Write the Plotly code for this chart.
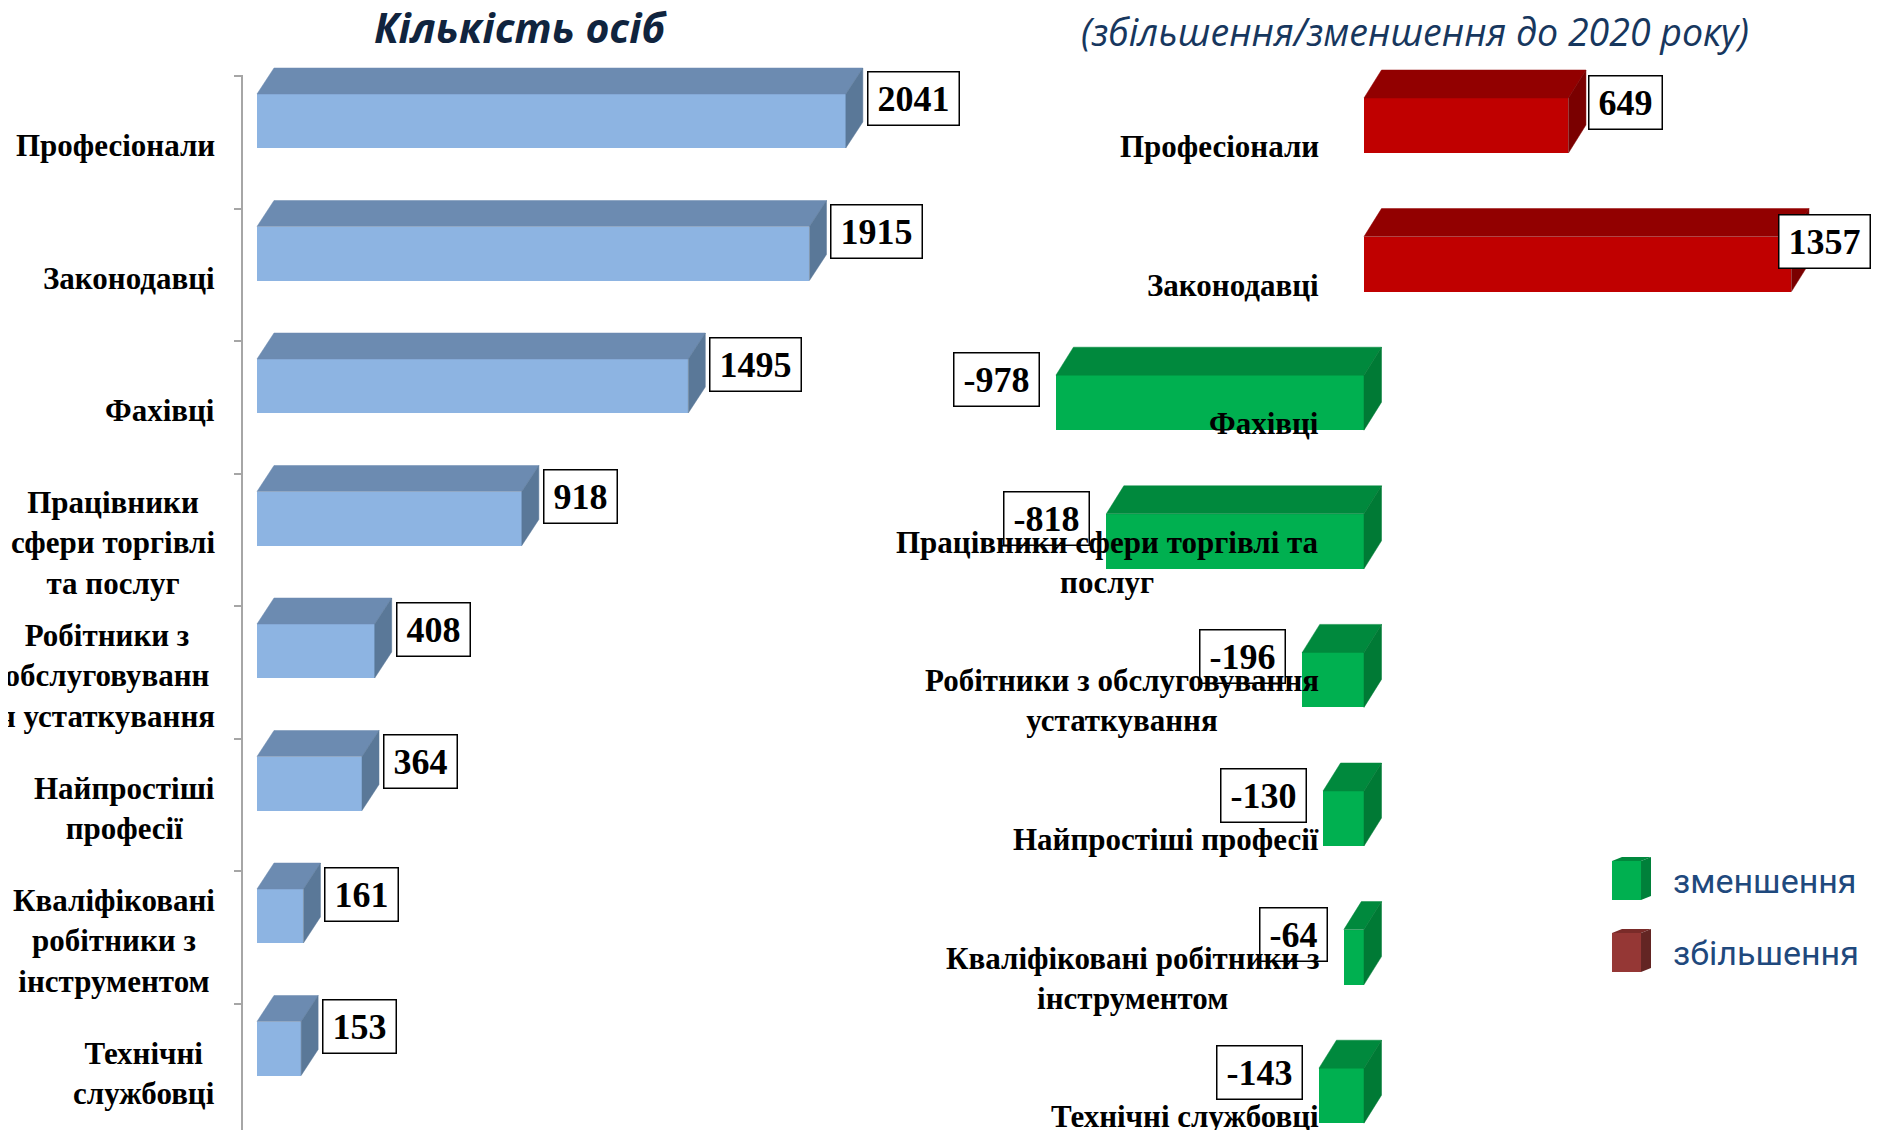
import plotly.graph_objects as go

# Data
categories = ["Професіонали", "Законодавці", "Фахівці",
              "Працівники сфери торгівлі та послуг",
              "Робітники з обслуговування устаткування",
              "Найпростіші професії",
              "Кваліфіковані робітники з інструментом",
              "Технічні службовці"]
left_labels = ["Професіонали", "Законодавці", "Фахівці",
               "Працівники<br>сфери торгівлі<br>та послуг",
               "Робітники з<br>обслуговуванн<br>я устаткування",
               "Найпростіші<br>професії",
               "Кваліфіковані<br>робітники з<br>інструментом",
               "Технічні<br>службовці"]
right_labels = ["Професіонали", "Законодавці", "Фахівці",
                "Працівники сфери торгівлі та<br>послуг",
                "Робітники з обслуговування<br>устаткування",
                "Найпростіші професії",
                "Кваліфіковані робітники з<br>інструментом",
                "Технічні службовці"]
persons = [2041, 1915, 1495, 918, 408, 364, 161, 153]
change_2020 = [649, 1357, -978, -818, -196, -130, -64, -143]
legend_names = ["зменшення", "збільшення"]

# window is 1883x1138, the html body adds an 8px margin
W, H = 1883, 1138
OX = OY = 8
FW, FH = W - 2 * OX, H - 2 * OY
idx = list(range(len(categories)))

SERIF = "Liberation Serif"
SANS = "Roboto"


def pxx(x):
    return (x - OX) / FW


def pxy(y):
    return 1 - (y - OY) / FH


def x_axis(left_px, right_px, zero_px, ppu):
    return dict(domain=[pxx(left_px), pxx(right_px)],
                range=[(left_px - zero_px) / ppu, (right_px - zero_px) / ppu],
                visible=False, fixedrange=True)


def y_axis(top_px, bot_px, c0_px, step_px):
    return dict(domain=[pxy(bot_px), pxy(top_px)],
                range=[(bot_px - c0_px) / step_px, (top_px - c0_px) / step_px],
                showgrid=False, zeroline=False, showticklabels=False,
                fixedrange=True)


def faces(values, rows, half, dx, dy):
    tx, ty, sx, sy = [], [], [], []
    for i, v in zip(rows, values):
        lo, hi = min(v, 0), max(v, 0)
        t, b = i - half, i + half
        tx += [lo, hi, hi + dx, lo + dx, lo, None]
        ty += [t, t, t - dy, t - dy, t, None]
        sx += [hi, hi + dx, hi + dx, hi, hi, None]
        sy += [t, t - dy, b - dy, b, t, None]
    return (tx, ty), (sx, sy)


def poly(xy, color, xa, ya):
    return go.Scatter(x=xy[0], y=xy[1], mode="lines", fill="toself",
                      fillcolor=color, line=dict(color=color, width=0.5),
                      xaxis=xa, yaxis=ya, hoverinfo="skip", showlegend=False)


fig = go.Figure()
BOTTOM = OY + FH

# ---- left chart: number of persons
L_ZERO, L_PPU = 257, 0.2885
L_C0, L_STEP = 121, 132.5
L_HALF = 27 / L_STEP
L_DX, L_DY = 17 / L_PPU, 26 / L_STEP

top, side = faces(persons, idx, L_HALF, L_DX, L_DY)
fig.add_trace(poly(top, "#6C8BB1", "x", "y"))
fig.add_trace(poly(side, "#5A7898", "x", "y"))
fig.add_trace(go.Bar(x=persons, y=idx, orientation="h", width=2 * L_HALF,
                     marker=dict(color="#8DB4E2", line_width=0),
                     xaxis="x", yaxis="y", showlegend=False, hoverinfo="x"))
# carrier for the category axis line (ticks between categories)
fig.add_trace(go.Scatter(x=[None], y=[None], xaxis="x", yaxis="y3",
                         showlegend=False, hoverinfo="skip"))

# ---- right chart: change to 2020
R_ZERO, R_PPU = 1364, 0.315
R_C0, R_STEP = 125.5, 138.6
R_HALF = 27.5 / R_STEP
R_DX, R_DY = 17.5 / R_PPU, 28 / R_STEP

groups = [(lambda v: v < 0, "#00B050", "#00893D", "#007A35"),
          (lambda v: v > 0, "#C00000", "#920000", "#7A0000")]
for test, c_front, c_top, c_side in groups:
    rows = [i for i in idx if test(change_2020[i])]
    vals = [change_2020[i] for i in rows]
    top, side = faces(vals, rows, R_HALF, R_DX, R_DY)
    fig.add_trace(poly(top, c_top, "x2", "y2"))
    fig.add_trace(poly(side, c_side, "x2", "y2"))
    fig.add_trace(go.Bar(x=vals, y=rows, orientation="h", width=2 * R_HALF,
                         marker=dict(color=c_front, line_width=0),
                         xaxis="x2", yaxis="y2", showlegend=False,
                         hoverinfo="x"))


def label_width(s, size=36):
    return sum(0.333 * size if ch == "-" else 0.5 * size for ch in s) + 14


anns = []
box = dict(font=dict(family=SERIF, size=36, color="black", weight="bold"),
           bgcolor="white", bordercolor="black", borderwidth=1.5,
           borderpad=2, height=48, showarrow=False, yanchor="middle")

for i, v in zip(idx, persons):
    anns.append(dict(box, text=str(v), x=v, y=i, xref="x", yref="y",
                     xanchor="left", xshift=21, yshift=22,
                     width=label_width(str(v))))

R_RIGHT = OX + FW
for i, v in zip(idx, change_2020):
    s = str(v)
    w = label_width(s)
    if v >= 0:
        if R_ZERO + v * R_PPU + 20 + w + 6 > R_RIGHT:
            anns.append(dict(box, text=s, x=(R_RIGHT - 4 - R_ZERO) / R_PPU,
                             y=i, xref="x2", yref="y2", xanchor="right",
                             yshift=23, width=w))
        else:
            anns.append(dict(box, text=s, x=v, y=i, xref="x2", yref="y2",
                             xanchor="left", xshift=20, yshift=23, width=w))
    else:
        anns.append(dict(box, text=s, x=v, y=i, xref="x2", yref="y2",
                         xanchor="right", xshift=-16, yshift=23, width=w))

cat_font = dict(family=SERIF, size=31, color="black", weight="bold")
for i, lab in zip(idx, left_labels):
    anns.append(dict(text=lab, x=pxx(217), y=i, xref="paper", yref="y",
                     xanchor="right", yanchor="middle", align="center",
                     yshift=-24.5, showarrow=False, font=cat_font))
for i, lab in zip(idx, right_labels):
    anns.append(dict(text=lab, x=0, y=i, xref="x2", yref="y2",
                     xanchor="right", yanchor="middle", align="center",
                     xshift=-43, yshift=-21, showarrow=False, font=cat_font))

# titles
anns.append(dict(text="Кількість осіб", x=pxx(520), y=pxy(27),
                 xref="paper", yref="paper", xanchor="center",
                 yanchor="middle", showarrow=False,
                 font=dict(family="Open Sans", size=41, color="#10243E",
                           weight="bold", style="italic")))
anns.append(dict(text="(збільшення/зменшення до 2020 року)", x=pxx(1415),
                 y=pxy(31), xref="paper", yref="paper", xanchor="center",
                 yanchor="middle", showarrow=False,
                 font=dict(family="Open Sans", size=37.5, color="#17375E",
                           style="italic")))

# legend (3d cube icons + text)
shapes = []


def pt(x, y):
    return f"{pxx(x):.5f},{pxy(y):.5f}"


for name, top_y, c_front, c_top, c_side in [
        (legend_names[0], 857, "#00B050", "#00893D", "#00803A"),
        (legend_names[1], 929, "#953735", "#7A2B29", "#632523")]:
    x0, x1, x2 = 1612, 1641, 1651
    y0, y1, y2 = top_y, top_y + 4, top_y + 43
    shapes.append(dict(type="path", xref="paper", yref="paper",
                       path=f"M{pt(x0, y1)}L{pt(x1, y1)}L{pt(x1, y2)}L{pt(x0, y2)}Z",
                       fillcolor=c_front, line_width=0))
    shapes.append(dict(type="path", xref="paper", yref="paper",
                       path=f"M{pt(x0, y1)}L{pt(x1, y1)}L{pt(x2, y0)}L{pt(x0 + 10, y0)}Z",
                       fillcolor=c_top, line_width=0))
    shapes.append(dict(type="path", xref="paper", yref="paper",
                       path=f"M{pt(x1, y1)}L{pt(x2, y0)}L{pt(x2, y2 - 4)}L{pt(x1, y2)}Z",
                       fillcolor=c_side, line_width=0))
    anns.append(dict(text=name, x=pxx(1671), y=pxy(top_y + 24),
                     xref="paper", yref="paper", xanchor="left",
                     yanchor="middle", showarrow=False,
                     font=dict(family=SANS, size=34, color="#1F497D")))

y3 = y_axis(75, BOTTOM, L_C0, L_STEP)
y3.update(anchor="x", showline=True, linecolor="#A6A6A6", linewidth=2,
          ticks="outside", ticklen=7, tickcolor="#A6A6A6", tickwidth=2,
          tickvals=[k - (L_C0 - 76) / L_STEP for k in range(len(idx) + 1)])

fig.update_layout(
    width=FW, height=FH, margin=dict(l=0, r=0, t=0, b=0),
    paper_bgcolor="white", plot_bgcolor="rgba(0,0,0,0)",
    showlegend=False, bargap=0,
    xaxis=x_axis(243, 1000, L_ZERO, L_PPU) | dict(anchor="y"),
    yaxis=y_axis(55, BOTTOM, L_C0, L_STEP) | dict(anchor="x"),
    xaxis2=x_axis(900, R_RIGHT, R_ZERO, R_PPU) | dict(anchor="y2"),
    yaxis2=y_axis(55, BOTTOM, R_C0, R_STEP) | dict(anchor="x2"),
    yaxis3=y3,
    annotations=anns, shapes=shapes,
)

fig.write_html("out.html")
